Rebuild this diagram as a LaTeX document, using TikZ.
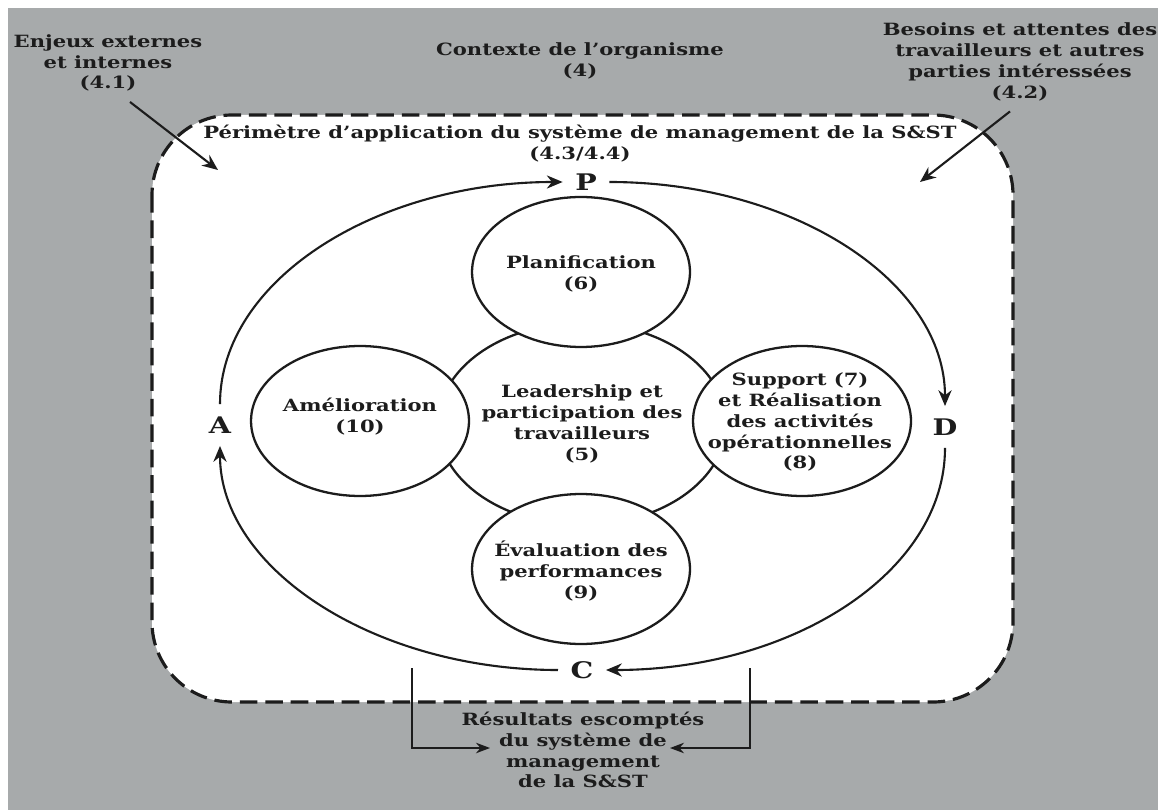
\documentclass[tikz,border=0pt]{standalone}
\usepackage{fontspec}
\setmainfont{DejaVu Serif}[FakeStretch=1.25]
\usetikzlibrary{arrows.meta,shapes.geometric}
\definecolor{fondgris}{HTML}{A7AAAB}
\definecolor{encre}{HTML}{1C1C1C}
\tikzset{
	txt/.style={font=\fontsize{9.6}{11.9}\selectfont\bfseries, text=encre, align=center, inner sep=0pt},
	pdca/.style={font=\fontsize{13}{14}\selectfont\bfseries, text=encre, inner sep=7pt},
	bulle/.style={ellipse, draw=encre, line width=1.3pt, fill=white, inner sep=0pt, minimum width=4.36cm, minimum height=3cm},
	cadre/.style={draw=encre, fill=white, line width=1.8pt, dash pattern=on 10pt off 4.5pt, rounded corners=1.6cm},
	cycle/.style={draw=encre, line width=1.2pt, -{Stealth[length=9pt,width=7.5pt]}},
	fleche/.style={draw=encre, line width=1.2pt, -{Stealth[length=9pt,width=7.5pt]}},
	renvoi/.style={draw=encre, line width=0.8pt, -{Stealth[length=8pt,width=6pt]}}
}

\begin{document}
\begin{tikzpicture}[x=0.02cm, y=-0.02cm]
	%%%%% FOND %%%%%
	\fill[white] (0,0) rectangle (1158,810);
	\fill[fondgris] (8,8) rectangle (1158,810);
	\useasboundingbox (0,0) rectangle (1158,810);

	\draw[cadre] (152,115) rectangle (1013,702);

	%%%%% CONTEXTE %%%%%
	\node[txt] (enjeux) at (108,63) {Enjeux externes\\et internes\\(4.1)};
	\node[txt] (contexte) at (580,61) {Contexte de l’organisme\\(4)};
	\node[txt] (besoins) at (1020,62) {Besoins et attentes des\\travailleurs et autres\\parties intéressées\\(4.2)};
	\node[txt] (perimetre) at (580,144) {Périmètre d’application du système de management de la S\&ST\\(4.3/4.4)};

	\coordinate (enjeuxfin) at (218,170);
	\coordinate (besoinsfin) at (920,182);
	\draw[fleche] ([xshift=0.44cm,yshift=-0.2cm]enjeux.south) -- (enjeuxfin);
	\draw[fleche] ([xshift=-0.2cm,yshift=-0.2cm]besoins.south) -- (besoinsfin);

	%%%%% BULLES %%%%%
	\node[bulle, minimum width=5.76cm, minimum height=4.04cm] (leadership) at (582,424) {};
	\node[bulle] (planif) at (581,272) {};
	\node[bulle] (amelio) at (360,421) {};
	\node[bulle] (support) at (802,421) {};
	\node[bulle] (evaluation) at (581,569) {};

	\node[txt] (leadershiptxt) at (leadership) {Leadership et\\participation des\\travailleurs\\(5)};
	\node[txt] (planiftxt) at (581,274) {Planification\\(6)};
	\node[txt] (ameliotxt) at (360,417) {Amélioration\\(10)};
	\node[txt] (supporttxt) at (800,422) {Support (7)\\et Réalisation\\des activités\\opérationnelles\\(8)};
	\node[txt] (evaluationtxt) at (581,571) {Évaluation des\\performances\\(9)};

	%%%%% PDCA %%%%%
	\node[pdca] (P) at (586,182) {P};
	\node[pdca] (D) at (945,427) {D};
	\node[pdca] (C) at (582,670) {C};
	\node[pdca] (A) at (220,425) {A};

	\draw[cycle] (A.north) .. controls +(0,-124) and +(-186,0) .. (P.west);
	\draw[cycle] (P.east) .. controls +(183,0) and +(0,-125) .. (D.north);
	\draw[cycle] (D.south) .. controls +(0,124) and +(187,0) .. (C.east);
	\draw[cycle] (C.west) .. controls +(-183,0) and +(0,123) .. (A.south);

	%%%%% RESULTATS %%%%%
	\node[txt] (resultats) at (583,750) {Résultats escomptés\\du système de\\management\\de la S\&ST};
	\coordinate (resgauche) at (412,668);
	\coordinate (resdroite) at (750,668);
	\coordinate (resgauchefin) at (490,748);
	\coordinate (resdroitefin) at (670,748);
	\draw[renvoi] (resgauche) |- (resgauchefin);
	\draw[renvoi] (resdroite) |- (resdroitefin);
\end{tikzpicture}
\end{document}
